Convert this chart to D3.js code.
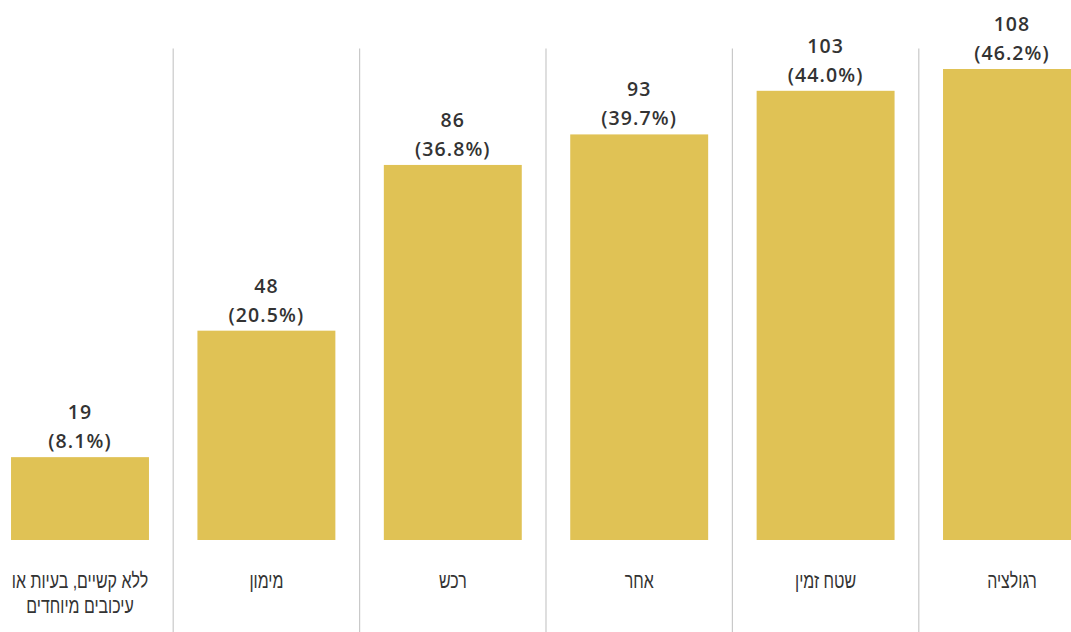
<!DOCTYPE html>
<html lang="he">
<head>
<meta charset="utf-8">
<script src="https://cdn.jsdelivr.net/npm/d3@7"></script>
<style>
  html, body { margin: 0; padding: 0; background: #ffffff; }
  svg { display: block; }
</style>
</head>
<body>
<svg id="chart" width="1071" height="632"></svg>
<script>
// Categories, left to right, each label split into its display lines
const categories = [
  ["ללא קשיים, בעיות או", "עיכובים מיוחדים"],
  ["מימון"],
  ["רכש"],
  ["אחר"],
  ["שטח זמין"],
  ["רגולציה"]
];
const counts = [19, 48, 86, 93, 103, 108];
const shares = ["8.1%", "20.5%", "36.8%", "39.7%", "44.0%", "46.2%"];

const W = 1071, H = 632;
const baseline = 540;
const svg = d3.select("#chart");

const keys = categories.map((c, i) => i);

const step = 186.4;
const x = d3.scaleBand()
  .domain(keys)
  .range([-13.2, -13.2 + step * keys.length])
  .paddingInner(0.26)
  .paddingOuter(0.13);

const y = d3.scaleLinear()
  .domain([0, 108])
  .range([baseline, 69]);

const cx = d => x(d) + x.bandwidth() / 2;

// Vertical separators between the categories
const gap = x.step() * x.paddingInner();
svg.append("g")
  .selectAll("line")
  .data(keys.slice(1))
  .join("line")
  .attr("x1", d => x(d) - gap / 2)
  .attr("x2", d => x(d) - gap / 2)
  .attr("y1", 48.5)
  .attr("y2", H)
  .attr("stroke", "#c9c9c9")
  .attr("stroke-width", 1.2);

// Bars
svg.append("g")
  .selectAll("rect")
  .data(keys)
  .join("rect")
  .attr("x", d => x(d))
  .attr("y", d => y(counts[d]))
  .attr("width", x.bandwidth())
  .attr("height", d => baseline - y(counts[d]))
  .attr("fill", "#e0c255");

// Value labels: count and share
const vals = svg.append("g")
  .attr("font-family", "'Open Sans', sans-serif")
  .attr("font-weight", 600)
  .attr("font-size", 19.5)
  .attr("letter-spacing", 1.1)
  .attr("fill", "#333333")
  .attr("text-anchor", "middle");

vals.selectAll("text.count")
  .data(keys)
  .join("text")
  .attr("class", "count")
  .attr("x", d => cx(d))
  .attr("y", d => y(counts[d]) - 38)
  .text(d => counts[d]);

vals.selectAll("text.share")
  .data(keys)
  .join("text")
  .attr("class", "share")
  .attr("x", d => cx(d))
  .attr("y", d => y(counts[d]) - 9)
  .text(d => "(" + shares[d] + ")");

// Category labels under the bars, in a condensed setting
const cat = svg.append("g")
  .attr("font-family", "'Liberation Sans', 'DejaVu Sans', sans-serif")
  .attr("font-size", 21)
  .attr("fill", "#333333")
  .attr("text-anchor", "middle");

cat.selectAll("text")
  .data(keys)
  .join("text")
  .attr("transform", d => `translate(${cx(d)},588) scale(0.76,1)`)
  .attr("direction", "rtl")
  .each(function(d) {
    const t = d3.select(this);
    categories[d].forEach((line, i) => {
      t.append("tspan")
        .attr("x", 0)
        .attr("y", i * 25)
        .text(line);
    });
  });
</script>
</body>
</html>
